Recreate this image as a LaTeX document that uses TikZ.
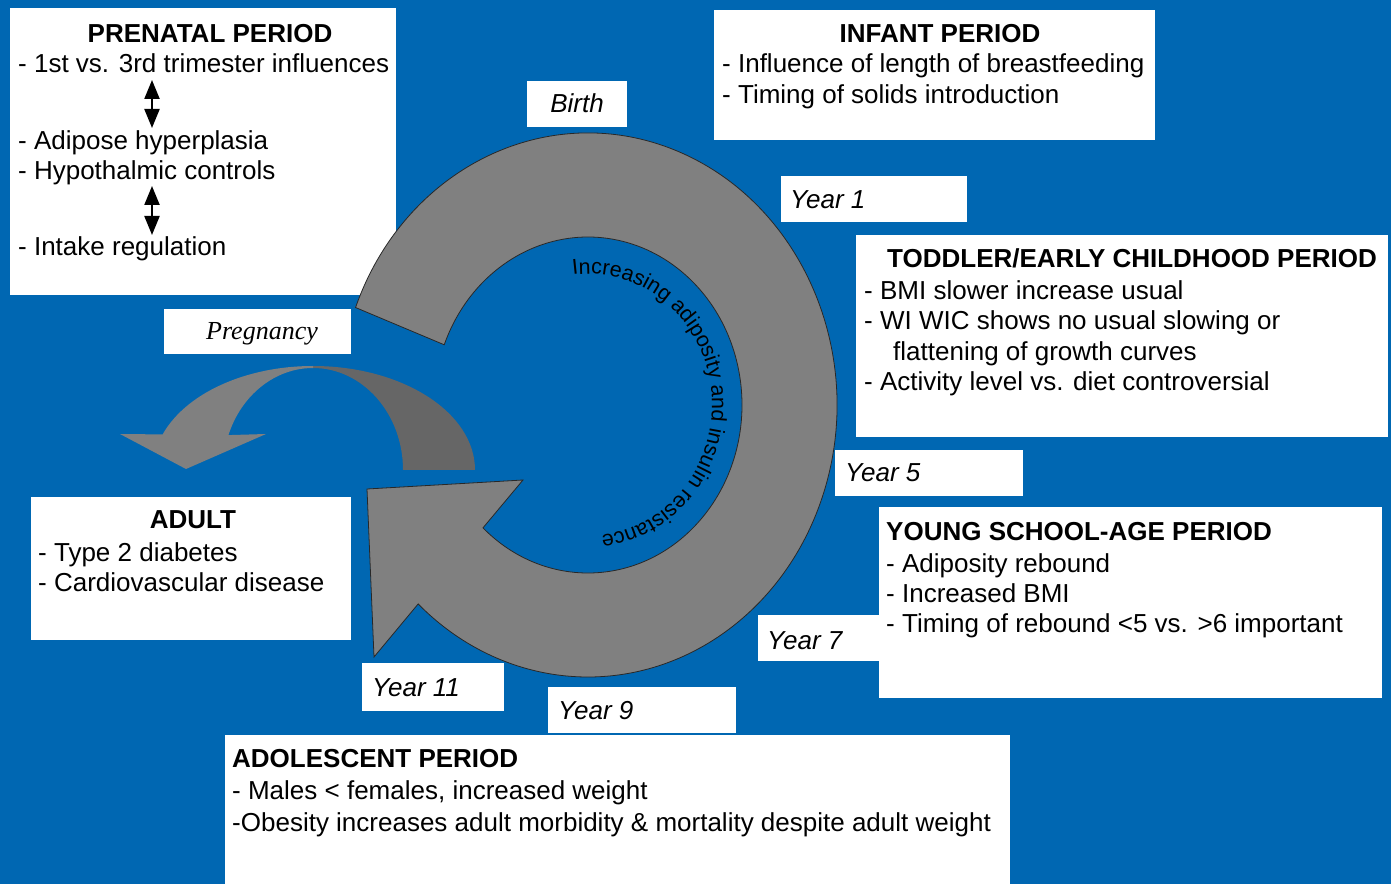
\documentclass[tikz,border=0pt]{standalone}
\usepackage{fontspec}
\setmainfont{Liberation Sans}
\newfontfamily\pregfont{Liberation Serif}
\usetikzlibrary{arrows.meta,decorations.text}
\definecolor{bgblue}{RGB}{0,103,178}
\definecolor{ringgrey}{RGB}{128,128,128}
\definecolor{darkgrey}{RGB}{102,102,102}
\definecolor{ringline}{RGB}{40,40,40}
\begin{document}
\begin{tikzpicture}[x=1pt,y=1pt,
  box/.style={fill=white, draw=none, inner sep=0pt, outer sep=0pt, anchor=north west},
  txt/.style={anchor=base west, inner sep=0pt, font=\fontsize{26}{30}\selectfont},
  ttl/.style={anchor=base west, inner sep=0pt, font=\fontsize{26}{30}\selectfont\bfseries},
  yr/.style={anchor=base west, inner sep=0pt, font=\fontsize{26}{30}\selectfont\itshape},
  dbl/.style={{Triangle[width=15pt,length=19pt]}-{Triangle[width=15pt,length=19pt]}, line width=2.2pt, black}
]
\fill[bgblue] (0,0) rectangle (1391,884);
\useasboundingbox (0,0) rectangle (1391,884);

% boxes
\node[box, minimum width=386pt, minimum height=287pt] (prenatal) at (10,876) {};
\node[box, minimum width=441pt, minimum height=130pt] (infant) at (714,874) {};
\node[box, minimum width=100pt, minimum height=46pt] (birth) at (527,803) {};
\node[box, minimum width=186pt, minimum height=46pt] (year1) at (781,708) {};
\node[box, minimum width=532pt, minimum height=202pt] (toddler) at (856,649) {};
\node[box, minimum width=188pt, minimum height=46pt] (year5) at (835,434) {};
\node[box, minimum width=503pt, minimum height=191pt] (school) at (879,377) {};
\node[box, minimum width=122pt, minimum height=46pt] (year7) at (758,269) {};
\node[box, minimum width=188pt, minimum height=46pt] (year9) at (548,197) {};
\node[box, minimum width=142pt, minimum height=48pt] (year11) at (362,221) {};
\node[box, minimum width=785pt, minimum height=149pt] (adolescent) at (225,149) {};
\node[box, minimum width=320pt, minimum height=143pt] (adult) at (31,387) {};
\node[box, minimum width=187pt, minimum height=45pt] (pregnancy) at (164,575) {};

% prenatal text
\node[ttl, anchor=base] (preT) at (210,841) {PRENATAL PERIOD};
\node[txt] (pre1) at (18,811) {- 1st vs. 3rd trimester influences};
\node[txt] (pre2) at (18,734) {- Adipose hyperplasia};
\node[txt] (pre3) at (18,704) {- Hypothalmic controls};
\node[txt] (pre4) at (18,628) {- Intake regulation};
\coordinate (a1t) at (152,804);
\coordinate (a1b) at (152,756);
\coordinate (a2t) at (152,698);
\coordinate (a2b) at (152,649);
\draw[dbl] (a1t) -- (a1b);
\draw[dbl] (a2t) -- (a2b);

% infant
\node[ttl, anchor=base] (infT) at (940,841) {INFANT PERIOD};
\node[txt] (inf1) at (722,811) {- Influence of length of breastfeeding};
\node[txt] (inf2) at (722,780) {- Timing of solids introduction};

% toddler
\node[ttl] (todT) at (887,616) {TODDLER/EARLY CHILDHOOD PERIOD};
\node[txt] (tod1) at (864,584) {- BMI slower increase usual};
\node[txt] (tod2) at (864,554) {- WI WIC shows no usual slowing or};
\node[txt] (tod3) at (893,523) {flattening of growth curves};
\node[txt] (tod4) at (864,493) {- Activity level vs. diet controversial};

% school age
\node[ttl] (schT) at (886,343) {YOUNG SCHOOL-AGE PERIOD};
\node[txt] (sch1) at (886,312) {- Adiposity rebound};
\node[txt] (sch2) at (886,282) {- Increased BMI};
\node[txt] (sch3) at (886,252) {- Timing of rebound <5 vs. >6 important};

% adolescent
\node[ttl] (adoT) at (232,117) {ADOLESCENT PERIOD};
\node[txt] (ado1) at (232,85) {- Males < females, increased weight};
\node[txt] (ado2) at (232,53) {-Obesity increases adult morbidity \& mortality despite adult weight};

% adult
\node[ttl, anchor=base] (aduT) at (193,355) {ADULT};
\node[txt] (adu1) at (38,323) {- Type 2 diabetes};
\node[txt] (adu2) at (38,293) {- Cardiovascular disease};

% year labels
\node[yr, anchor=base] (birthT) at (577,771) {Birth};
\node[yr] (y1T) at (790,675) {Year 1};
\node[yr] (y5T) at (845,402) {Year 5};
\node[yr] (y7T) at (767,235) {Year 7};
\node[yr] (y9T) at (558,165) {Year 9};
\node[yr] (y11T) at (372,188) {Year 11};
\node[anchor=base, inner sep=0pt, font=\pregfont\itshape\fontsize{26}{30}\selectfont] (pregT) at (262,544) {Pregnancy};

% circular arrow
\coordinate (C) at (588,479);
\coordinate (w1) at (374,227);
\coordinate (tip) at (367,395);
\coordinate (w2) at (523,404);
\filldraw[fill=ringgrey, draw=ringline, line width=0.8pt, line join=miter]
  ([shift={(159:249 and 272)}]C) arc[start angle=159, end angle=-133, x radius=249pt, y radius=272pt]
  -- (w1) -- (tip) -- (w2)
  -- ([shift={(-133:154 and 168)}]C) arc[start angle=-133, end angle=159, x radius=154pt, y radius=168pt]
  -- cycle;

% curved text
\path[decorate, decoration={text along path, text color=black,
   text={|\fontsize{21.5}{21.5}\selectfont|Increasing adiposity and insulin resistance}}]
  ([shift={(97:124 and 131)}]C) arc[start angle=97, end angle=-100, x radius=124pt, y radius=131pt];

% pregnancy curved arrow
\coordinate (P0) at (313,414);
\coordinate (wl) at (120,450);
\coordinate (ptip) at (186,415);
\coordinate (wr) at (266,450);
\fill[darkgrey]
  ([shift={(0:162 and 104)}]P0) arc[start angle=0, end angle=90, x radius=162pt, y radius=104pt]
  -- ([shift={(90:90 and 102)}]P0) arc[start angle=90, end angle=0, x radius=90pt, y radius=102pt]
  -- cycle;
\fill[ringgrey]
  ([shift={(90:160 and 104)}]P0) arc[start angle=90, end angle=160, x radius=160pt, y radius=104pt]
  -- (wl) -- (ptip) -- (wr)
  -- ([shift={(160:90 and 102)}]P0) arc[start angle=160, end angle=90, x radius=90pt, y radius=102pt]
  -- cycle;
\end{tikzpicture}
\end{document}
